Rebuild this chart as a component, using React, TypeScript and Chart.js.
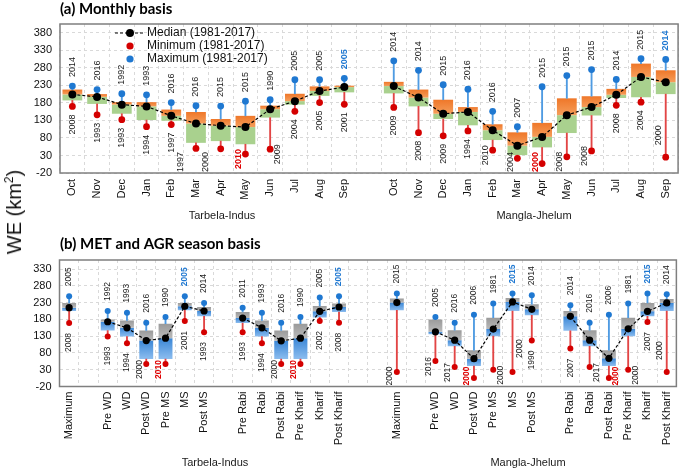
import React, { useEffect, useRef } from 'react';
import { Chart, registerables } from 'chart.js';

Chart.register(...registerables);

const SANS = '"Liberation Sans", Arial, sans-serif';
const TITLE_FONT = 'Lato, "Open Sans", sans-serif';

// ---------------- Panel (a): monthly basis ----------------
const months = ['Oct', 'Nov', 'Dec', 'Jan', 'Feb', 'Mar', 'Apr', 'May', 'Jun', 'Jul', 'Aug', 'Sep'];
const monthlyCategories = [...months, '', ...months];
const monthlyYTicks = [-20, 30, 80, 130, 180, 230, 280, 330, 380];

// Tarbela-Indus
const tbMonQ3 = [218, 205, 182, 182, 161, 154, 134, 143, 172, 206, 227, 229];
const tbMonMedian = [204, 197, 175, 170, 143, 121, 115, 111, 162, 185, 214, 225];
const tbMonQ1 = [187, 177, 149, 131, 129, 66, 71, 62, 138, 175, 200, 210];
const tbMonMax = [228, 218, 206, 203, 181, 172, 171, 185, 189, 246, 246, 250];
const tbMonMin = [170, 146, 132, 112, 118, 50, 49, 34, 48, 156, 181, 176];
const tbMonMaxYear = ['2014', '2016', '1992', '1993', '2016', '2016', '2015', '2015', '1990', '2005', '2005', '2005'];
const tbMonMinYear = ['2008', '1993', '1993', '1994', '1997', '1997', '2000', '2010', '2009', '2004', '2005', '2001'];
// Mangla-Jhelum
const mjMonQ3 = [240, 218, 189, 168, 119, 96, 123, 193, 199, 220, 292, 273];
const mjMonMedian = [228, 195, 149, 154, 102, 58, 83, 145, 168, 203, 254, 239];
const mjMonQ1 = [207, 170, 134, 116, 74, 31, 53, 94, 144, 194, 196, 205];
const mjMonMax = [300, 273, 232, 219, 156, 112, 226, 258, 275, 247, 306, 304];
const mjMonMin = [167, 95, 86, 100, 45, 22, 7, 26, 43, 173, 182, 25];
const mjMonMaxYear = ['2014', '2014', '2015', '2016', '2016', '2007', '2015', '2015', '2015', '2014', '2015', '2014'];
const mjMonMinYear = ['2009', '2008', '2009', '1994', '2010', '2004', '2000', '2008', '2008', '2008', '2004', '2000'];
// record years (index in Tarbela+Mangla order)
const monthlyMaxRecord = [11, 23];
const monthlyMinRecord = [7, 18];
// side where the minimum-year label sits
const monthlyMinSide = ['B', 'B', 'B', 'B', 'B', 'LL', 'LL', 'L', 'R', 'B', 'B', 'B',
  'B', 'B', 'B', 'B', 'L', 'L', 'L', 'L', 'L', 'B', 'B', 'LA'];

// ---------------- Panel (b): MET and AGR season basis ----------------
const seasonNames = ['Pre WD', 'WD', 'Post WD', 'Pre MS', 'MS', 'Post MS'];
const agrNames = ['Pre Rabi', 'Rabi', 'Post Rabi', 'Pre Kharif', 'Kharif', 'Post Kharif'];
const basinSeasonCats = ['Maximum', '', ...seasonNames, '', ...agrNames];
const seasonCategories = [...basinSeasonCats, '', '', ...basinSeasonCats];
const seasonYTicks = [-20, 30, 80, 130, 180, 230, 280, 330];

// Tarbela-Indus
const tbSeaQ3 = [229, 180, 177, 147, 167, 229, 217, 202, 177, 147, 167, 220, 227];
const tbSeaMedian = [215, 173, 155, 117, 124, 219, 205, 184, 155, 116, 124, 204, 217];
const tbSeaQ1 = [205, 147, 129, 62, 62, 207, 189, 169, 129, 62, 62, 186, 202];
const tbSeaMax = [249, 205, 200, 170, 187, 249, 229, 215, 200, 170, 187, 245, 249];
const tbSeaMin = [169, 129, 109, 47, 47, 175, 142, 142, 109, 47, 47, 175, 170];
const tbSeaMaxYear = ['2005', '1992', '1993', '2016', '1990', '2005', '2014', '2011', '1993', '2016', '1990', '2005', '2005'];
const tbSeaMinYear = ['2008', '1993', '1994', '2000', '2010', '2001', '1993', '1993', '1994', '2000', '2010', '2002', '2008'];
// Mangla-Jhelum
const mjSeaQ3 = [242, 180, 148, 88, 185, 244, 225, 205, 148, 88, 185, 229, 241];
const mjSeaMedian = [230, 143, 118, 63, 151, 232, 210, 189, 118, 64, 152, 204, 229];
const mjSeaQ1 = [207, 136, 100, 41, 130, 205, 192, 146, 100, 41, 130, 189, 205];
const mjSeaMax = [257, 187, 170, 194, 227, 257, 252, 222, 170, 194, 227, 257, 255];
const mjSeaMin = [23, 56, 38, 5, 30, 23, 117, 93, 38, 5, 30, 172, 23];
const mjSeaMaxYear = ['2015', '2005', '2016', '2006', '1981', '2015', '2014', '2014', '2016', '2006', '1981', '2015', '2014'];
const mjSeaMinYear = ['2000', '2016', '2017', '2000', '2000', '2000', '1990', '2007', '2017', '2000', '2000', '2007', '2000'];
const seasonMaxRecord = [5, 12, 18, 24];
const seasonMinRecord = [4, 10, 16, 22];
const seasonMinSide = ['B', 'B', 'B', 'L', 'L', 'B', 'B', 'B', 'B', 'L', 'L', 'B', 'B',
  'L', 'L', 'L', 'L', 'R', 'RA', 'B', 'B', 'R', 'R', 'R', 'B', 'LA'];

const basinNames = ['Tarbela-Indus', 'Mangla-Jhelum'];

// ---------------- styling ----------------
const BLUE_DOT = '#1f78d1';
const RED_DOT = '#d40000';
const BLUE_LINE = '#4f9be2';
const RED_LINE = '#e24545';
const GRID = '#d9d9d9';

type PanelDef = {
  title: string;
  categories: string[];
  q1: number[]; med: number[]; q3: number[]; max: number[]; min: number[];
  maxYear: string[]; minYear: string[];
  maxRec: number[]; minRec: number[]; minSide: string[];
  yMin: number; yMax: number; yTicks: number[];
  upper: [string, string]; lower: [string, string];
  s: {
    top: number; bottom: number; xAxisH: number; xPad: number; right: number; yW: number;
    boxPct: number; medR: number; dotR: number; yearFont: number; maxGap: number; minGap: number;
    groupLabels: [number, number][]; legend: boolean;
  };
};

const monthlyPanel: PanelDef = {
  title: '(a) Monthly basis',
  categories: monthlyCategories,
  q1: [...tbMonQ1, ...mjMonQ1], med: [...tbMonMedian, ...mjMonMedian], q3: [...tbMonQ3, ...mjMonQ3],
  max: [...tbMonMax, ...mjMonMax], min: [...tbMonMin, ...mjMonMin],
  maxYear: [...tbMonMaxYear, ...mjMonMaxYear], minYear: [...tbMonMinYear, ...mjMonMinYear],
  maxRec: monthlyMaxRecord, minRec: monthlyMinRecord, minSide: monthlyMinSide,
  yMin: -20, yMax: 405, yTicks: monthlyYTicks,
  upper: ['#ef7729', '#f59d5a'], lower: ['#a9d18e', '#a9d18e'],
  s: {
    top: 24, bottom: 22, xAxisH: 40, xPad: 6, right: 1, yW: 60,
    boxPct: 0.8, medR: 4, dotR: 3.4, yearFont: 9, maxGap: 9, minGap: 8,
    groupLabels: [[222, 216], [534, 216]], legend: true,
  },
};

const seasonPanel: PanelDef = {
  title: '(b) MET and AGR season basis',
  categories: seasonCategories,
  q1: [...tbSeaQ1, ...mjSeaQ1], med: [...tbSeaMedian, ...mjSeaMedian], q3: [...tbSeaQ3, ...mjSeaQ3],
  max: [...tbSeaMax, ...mjSeaMax], min: [...tbSeaMin, ...mjSeaMin],
  maxYear: [...tbSeaMaxYear, ...mjSeaMaxYear], minYear: [...tbSeaMinYear, ...mjSeaMinYear],
  maxRec: seasonMaxRecord, minRec: seasonMinRecord, minSide: seasonMinSide,
  yMin: -20, yMax: 357, yTicks: seasonYTicks,
  upper: ['#9a9a9a', '#b9b9b9'], lower: ['#3a86d6', '#8cbdef'],
  s: {
    top: 25, bottom: 24, xAxisH: 59.5, xPad: 5, right: 1, yW: 59.5,
    boxPct: 0.72, medR: 3.6, dotR: 3, yearFont: 8.5, maxGap: 10, minGap: 10,
    groupLabels: [[215, 228], [528, 228]], legend: false,
  },
};

function expand(cats: string[], vals: number[]): (number | null)[] {
  let k = 0;
  return cats.map((c) => (c === '' ? null : vals[k++]));
}

function pair(a: (number | null)[], b: (number | null)[]) {
  return a.map((v, i) => (v == null || b[i] == null ? null : [v, b[i] as number]));
}

function gradFill(colors: [string, string]) {
  return (ctx: any) => {
    const chart = ctx.chart;
    const raw = ctx.raw;
    const ys = chart.scales && chart.scales.y;
    if (!raw || !ys || !Array.isArray(raw)) return colors[0];
    const top = ys.getPixelForValue(Math.max(raw[0], raw[1]));
    const bot = ys.getPixelForValue(Math.min(raw[0], raw[1]));
    if (!isFinite(top) || !isFinite(bot) || bot - top < 0.5) return colors[0];
    const g = chart.ctx.createLinearGradient(0, top, 0, bot);
    g.addColorStop(0, colors[0]);
    g.addColorStop(1, colors[1]);
    return g;
  };
}

function drawRot(ctx: CanvasRenderingContext2D, text: string, x: number, y: number, align: CanvasTextAlign) {
  ctx.save();
  ctx.translate(x, y);
  ctx.rotate(-Math.PI / 2);
  ctx.textAlign = align;
  ctx.textBaseline = 'middle';
  ctx.fillText(text, 0, 0);
  ctx.restore();
}

function buildConfig(p: PanelDef): any {
  const cats = p.categories;
  const med = expand(cats, p.med);
  const q1 = expand(cats, p.q1);
  const q3 = expand(cats, p.q3);
  const mx = expand(cats, p.max);
  const mn = expand(cats, p.min);
  const s = p.s;

  const annotations = {
    id: 'annotations',
    afterDatasetsDraw(chart: any) {
      const ctx: CanvasRenderingContext2D = chart.ctx;
      const xs = chart.scales.x;
      const ys = chart.scales.y;
      const area = chart.chartArea;
      // year labels
      let k = 0;
      cats.forEach((c, i) => {
        if (!c) return;
        const x = xs.getPixelForValue(i);
        const yMaxPx = ys.getPixelForValue(p.max[k]);
        const yMinPx = ys.getPixelForValue(p.min[k]);
        const maxRec = p.maxRec.includes(k);
        const minRec = p.minRec.includes(k);
        ctx.font = `${maxRec ? 'bold ' : ''}${s.yearFont}px ${SANS}`;
        ctx.fillStyle = maxRec ? BLUE_DOT : '#1a1a1a';
        drawRot(ctx, p.maxYear[k], x, yMaxPx - s.maxGap, 'left');
        ctx.font = `${minRec ? 'bold ' : ''}${s.yearFont}px ${SANS}`;
        ctx.fillStyle = minRec ? '#e00000' : '#1a1a1a';
        const side = p.minSide[k];
        const low = Math.min(yMinPx + 15, area.bottom - 1);
        if (side === 'B') drawRot(ctx, p.minYear[k], x, yMinPx + s.minGap, 'right');
        else if (side === 'L') drawRot(ctx, p.minYear[k], x - 7, low, 'left');
        else if (side === 'LL') drawRot(ctx, p.minYear[k], x - 15, area.bottom - 1, 'left');
        else if (side === 'R') drawRot(ctx, p.minYear[k], x + 7, low, 'left');
        else if (side === 'LA') drawRot(ctx, p.minYear[k], x - 7, yMinPx - 12, 'left');
        else if (side === 'RA') drawRot(ctx, p.minYear[k], x + 7, yMinPx - 14, 'left');
        k++;
      });
      // frame
      ctx.save();
      ctx.strokeStyle = '#7f7f7f';
      ctx.lineWidth = 1.5;
      ctx.strokeRect(area.left, area.top, area.right - area.left, area.bottom - area.top);
      ctx.restore();
    },
    afterDraw(chart: any) {
      const ctx: CanvasRenderingContext2D = chart.ctx;
      ctx.save();
      ctx.fillStyle = '#000';
      ctx.font = `bold 15px ${TITLE_FONT}`;
      ctx.textAlign = 'left';
      ctx.textBaseline = 'middle';
      ctx.fillText(p.title, 60, 9);
      ctx.font = `11px ${SANS}`;
      ctx.fillStyle = '#1a1a1a';
      ctx.textAlign = 'center';
      s.groupLabels.forEach(([gx, gy], gi) => ctx.fillText(basinNames[gi], gx, gy));
      if (s.legend) {
        const lx = 130;
        const rows = [33, 46, 59];
        ctx.strokeStyle = '#000';
        ctx.lineWidth = 1.2;
        ctx.setLineDash([3, 2]);
        ctx.beginPath();
        ctx.moveTo(115, rows[0]);
        ctx.lineTo(145, rows[0]);
        ctx.stroke();
        ctx.setLineDash([]);
        const dot = (y: number, col: string, r: number) => {
          ctx.fillStyle = col;
          ctx.beginPath();
          ctx.arc(lx, y, r, 0, Math.PI * 2);
          ctx.fill();
        };
        dot(rows[0], '#000', 4);
        dot(rows[1], RED_DOT, 3.6);
        dot(rows[2], BLUE_DOT, 3.6);
        ctx.fillStyle = '#111';
        ctx.font = `12px ${SANS}`;
        ctx.textAlign = 'left';
        ctx.fillText('Median (1981-2017)', 147, rows[0]);
        ctx.fillText('Minimum (1981-2017)', 147, rows[1]);
        ctx.fillText('Maximum (1981-2017)', 147, rows[2]);
      }
      ctx.restore();
    },
  };

  return {
    type: 'bar',
    data: {
      labels: cats,
      datasets: [
        {
          type: 'line', data: med, order: 0, borderColor: '#000', borderWidth: 1.2, borderDash: [3, 2],
          pointRadius: s.medR, pointBackgroundColor: '#000', pointBorderWidth: 0, spanGaps: false, tension: 0,
        },
        {
          type: 'line', data: mx, order: 1, showLine: false,
          pointRadius: s.dotR, pointBackgroundColor: BLUE_DOT, pointBorderWidth: 0,
        },
        {
          type: 'line', data: mn, order: 1, showLine: false,
          pointRadius: s.dotR, pointBackgroundColor: RED_DOT, pointBorderWidth: 0,
        },
        { type: 'bar', data: pair(q3, mx), order: 2, backgroundColor: BLUE_LINE, barThickness: 1.2, grouped: false },
        { type: 'bar', data: pair(mn, q1), order: 2, backgroundColor: RED_LINE, barThickness: 1.2, grouped: false },
        {
          type: 'bar', data: pair(med, q3), order: 3, backgroundColor: gradFill(p.upper),
          barPercentage: s.boxPct, categoryPercentage: 1, grouped: false,
        },
        {
          type: 'bar', data: pair(q1, med), order: 3, backgroundColor: gradFill(p.lower),
          barPercentage: s.boxPct, categoryPercentage: 1, grouped: false,
        },
      ],
    },
    options: {
      responsive: false,
      maintainAspectRatio: false,
      animation: false,
      events: [],
      layout: { padding: { top: s.top, bottom: s.bottom, left: 0, right: s.right } },
      plugins: { legend: { display: false }, tooltip: { enabled: false }, title: { display: false } },
      scales: {
        x: {
          type: 'category',
          offset: true,
          grid: { offset: true, color: GRID, drawTicks: false, lineWidth: 1 },
          border: { display: false, dash: [3, 3] },
          ticks: {
            autoSkip: false, maxRotation: 90, minRotation: 90, padding: s.xPad,
            font: { family: SANS, size: 11 }, color: '#111',
          },
          afterFit: (sc: any) => { sc.height = s.xAxisH; },
        },
        y: {
          type: 'linear',
          min: p.yMin,
          max: p.yMax,
          afterBuildTicks: (sc: any) => { sc.ticks = p.yTicks.map((v) => ({ value: v })); },
          grid: { color: GRID, drawTicks: false, lineWidth: 1 },
          border: { display: false, dash: [3, 3] },
          ticks: { padding: 8, font: { family: SANS, size: 11 }, color: '#111' },
          afterFit: (sc: any) => { sc.width = s.yW; },
        },
      },
    },
    plugins: [annotations],
  };
}

function Panel({ panel, top }: { panel: PanelDef; top: number }) {
  const ref = useRef<HTMLCanvasElement>(null);
  useEffect(() => {
    if (!ref.current) return;
    const chart = new Chart(ref.current, buildConfig(panel));
    return () => chart.destroy();
  }, [panel]);
  return (
    <canvas
      ref={ref}
      width={685}
      height={235}
      style={{ position: 'absolute', left: 0, top, width: 685, height: 235 }}
    />
  );
}

export default function App() {
  return (
    <div style={{ position: 'absolute', left: 0, top: 0, width: 685, height: 470, background: '#fff', overflow: 'hidden' }}>
      <Panel panel={monthlyPanel} top={0} />
      <Panel panel={seasonPanel} top={235} />
      <div
        style={{
          position: 'absolute', left: 14, top: 212, transform: 'translate(-50%, -50%) rotate(-90deg)',
          whiteSpace: 'nowrap', fontFamily: SANS, fontSize: 20, lineHeight: '20px', color: '#111',
        }}
      >
        WE (km<sup style={{ fontSize: 12, lineHeight: 0 }}>2</sup>)
      </div>
    </div>
  );
}
